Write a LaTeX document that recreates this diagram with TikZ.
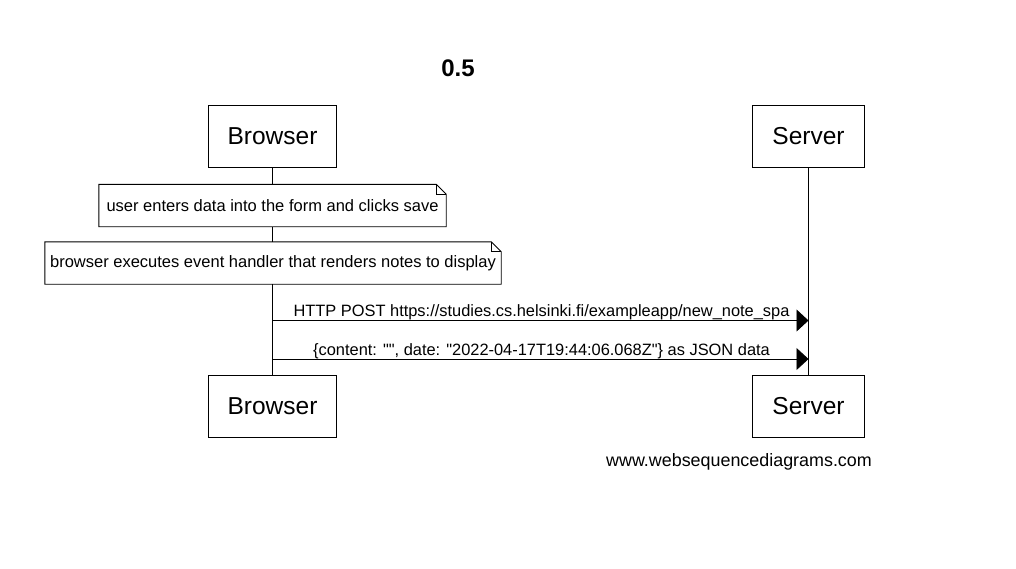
\documentclass[tikz,border=0pt]{standalone}
\usepackage{fontspec}
\setmainfont{Liberation Sans}[Ligatures=TeXOff]
\usetikzlibrary{arrows.meta}
\begin{document}
\begin{tikzpicture}[x=1pt,y=-1pt,
  actor/.style={draw, line width=0.9pt, fill=white, minimum height=62pt, inner sep=0pt, font=\fontsize{24.5}{28}\selectfont},
  notebox/.style={inner sep=0pt, minimum height=42pt, font=\fontsize{16.5}{19}\selectfont},
  notedraw/.style={line width=0.9pt},
  msg/.style={line width=0.9pt, -{Triangle[length=12pt,width=22pt]}},
  msglabel/.style={font=\fontsize{16.4}{19}\selectfont, inner sep=0pt, anchor=base},
  life/.style={line width=0.9pt}
]
\useasboundingbox (0,0) rectangle (1016,568);
\node[font=\bfseries\fontsize{24}{28}\selectfont] (title) at (458,68) {0.5};
\node[actor, minimum width=128pt] (bt) at (272.5,136) {Browser};
\node[actor, minimum width=112pt] (st) at (808.5,136) {Server};
\node[actor, minimum width=128pt] (bb) at (272.5,406.5) {Browser};
\node[actor, minimum width=112pt] (sb) at (808.5,406.5) {Server};
\draw[life] (bt.south) -- (bb.north);
\draw[life] (st.south) -- (sb.north);
% notes
\node[notebox, minimum width=347pt, fill=white] (n1) at (272.5,205.5) {user enters data into the form and clicks save};
\draw[notedraw] (n1.north west) -- ([xshift=-10pt]n1.north east) -- ([yshift=-10pt]n1.north east) -- (n1.south east) -- (n1.south west) -- cycle;
\draw[notedraw] ([xshift=-10pt]n1.north east) -- ([xshift=-10pt,yshift=-10pt]n1.north east) -- ([yshift=-10pt]n1.north east);
\node[notebox, minimum width=456pt, fill=white] (n2) at (273,263) {browser executes event handler that renders notes to display};
\draw[notedraw] (n2.north west) -- ([xshift=-10pt]n2.north east) -- ([yshift=-10pt]n2.north east) -- (n2.south east) -- (n2.south west) -- cycle;
\draw[notedraw] ([xshift=-10pt]n2.north east) -- ([xshift=-10pt,yshift=-10pt]n2.north east) -- ([yshift=-10pt]n2.north east);
% messages
\coordinate (a1s) at (272.5,320.5);
\coordinate (a1e) at (808.5,320.5);
\coordinate (a2s) at (272.5,359);
\coordinate (a2e) at (808.5,359);
\draw[msg] (a1s) -- (a1e);
\draw[msg] (a2s) -- (a2e);
\node[msglabel] (l1) at (541.5,316) {HTTP POST https://studies.cs.helsinki.fi/exampleapp/new\_note\_spa};
\node[msglabel] (l2) at (541.5,355) {\{content: "", date: "2022-04-17T19:44:06.068Z"\} as JSON data};
\node[font=\fontsize{17.9}{20}\selectfont, anchor=base] (wsd) at (739,466) {www.websequencediagrams.com};
\end{tikzpicture}
\end{document}
